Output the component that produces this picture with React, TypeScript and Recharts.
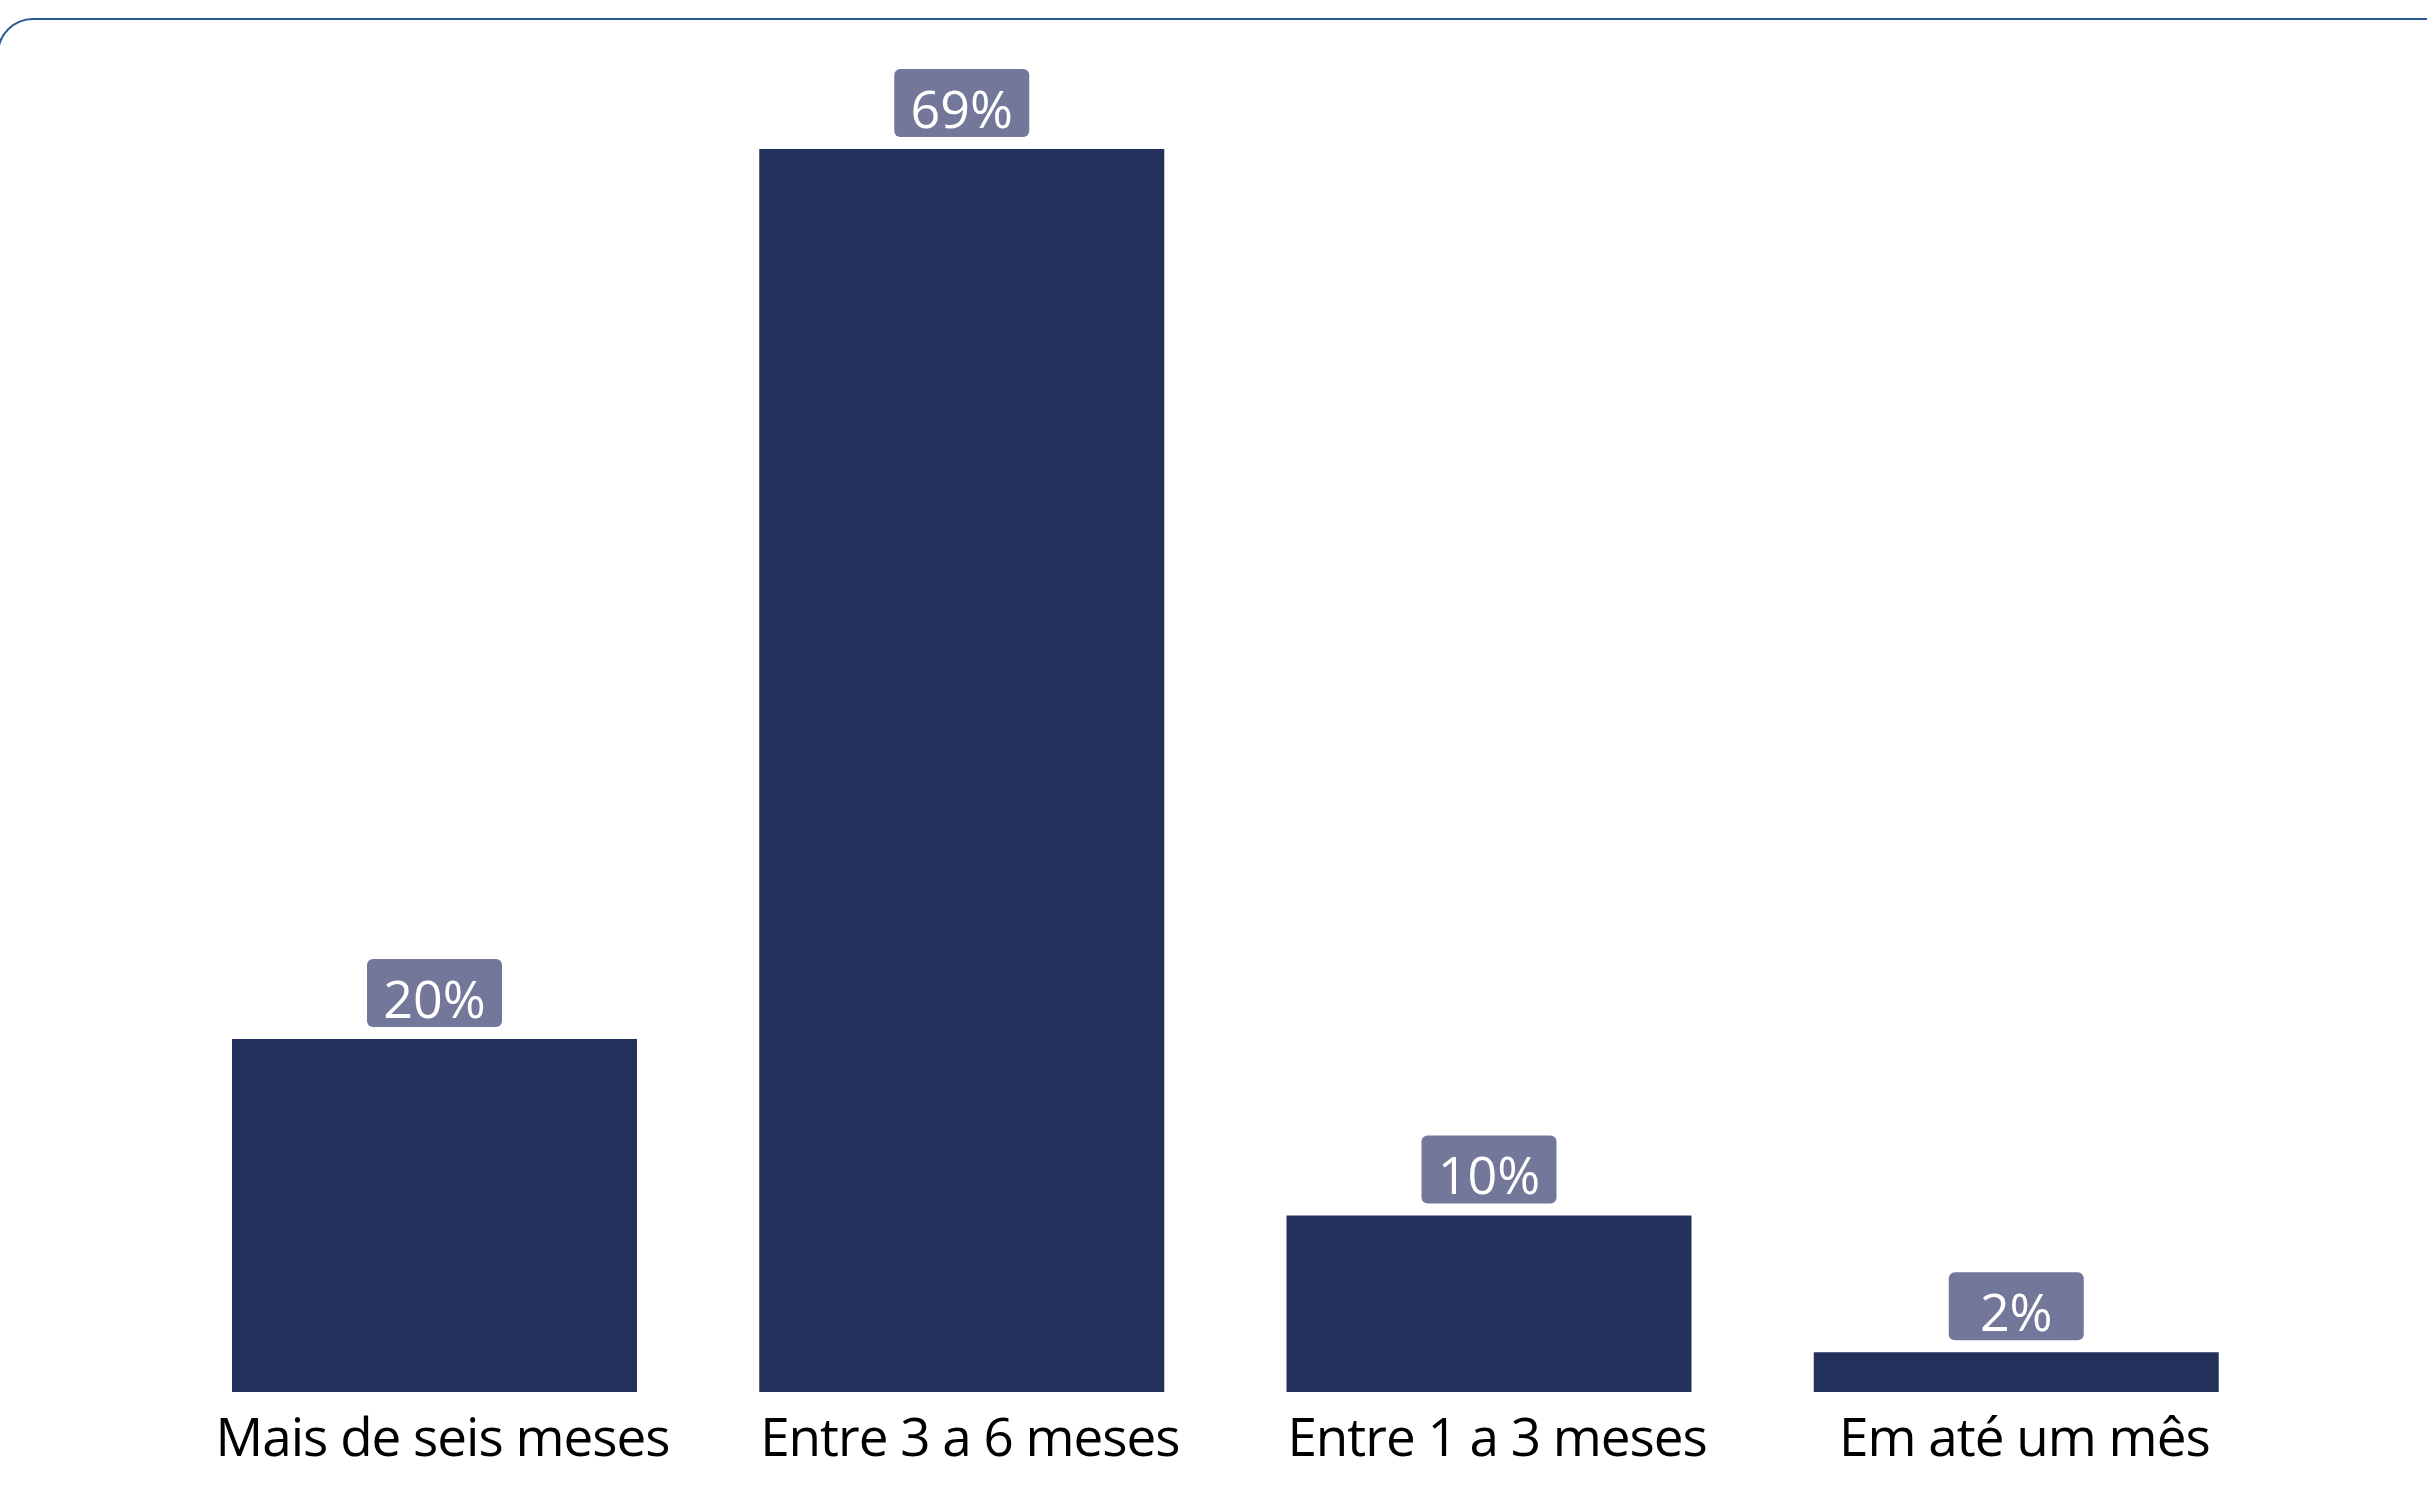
import { BarChart, Bar, XAxis, YAxis, LabelList } from 'recharts'

const categories = ['Mais de seis meses', 'Entre 3 a 6 meses', 'Entre 1 a 3 meses', 'Em até um mês']
const shares = [19.6, 69.0, 9.8, 2.2]

const data = categories.map((name, i) => ({ name, share: shares[i] }))

const FONT = '"Segoe UI", "Open Sans", sans-serif'

function CategoryTick(props: any) {
  const { x, y, payload } = props
  return (
    <text x={x + 8} y={y} dy={64} textAnchor="middle" fill="#000" fontSize={53} letterSpacing={-1} fontFamily={FONT}>
      {payload.value}
    </text>
  )
}

function ShareBadge(props: any) {
  const { x, y, width, value } = props
  const cx = x + width / 2
  const w = 135
  const h = 68
  return (
    <g>
      <rect x={cx - w / 2} y={y - 12 - h} width={w} height={h} rx={6} fill="#737799" />
      <text x={cx} y={y - 21} textAnchor="middle" fill="#fff" fontSize={52} fontFamily={FONT}>
        {Math.round(value)}%
      </text>
    </g>
  )
}

export default function App() {
  return (
    <div style={{ position: 'absolute', left: 0, top: 0, width: 2427, height: 1485, overflow: 'hidden', background: '#fff' }}>
      <div
        style={{
          position: 'absolute',
          left: -3,
          top: 18,
          width: 2600,
          height: 1700,
          border: '2px solid #275b93',
          borderRadius: 36
        }}
      />
      <div style={{ position: 'absolute', left: 0, top: 0 }}>
        <BarChart
          width={2427}
          height={1485}
          data={data}
          margin={{ top: 149, right: 147, left: 171, bottom: 0 }}
          barCategoryGap={61}
        >
          <XAxis
            dataKey="name"
            axisLine={false}
            tickLine={false}
            tickSize={0}
            tickMargin={0}
            height={93}
            interval={0}
            tick={<CategoryTick />}
          />
          <YAxis hide domain={[0, 'dataMax']} />
          <Bar dataKey="share" fill="#24305c" isAnimationActive={false}>
            <LabelList dataKey="share" content={<ShareBadge />} />
          </Bar>
        </BarChart>
      </div>
    </div>
  )
}
